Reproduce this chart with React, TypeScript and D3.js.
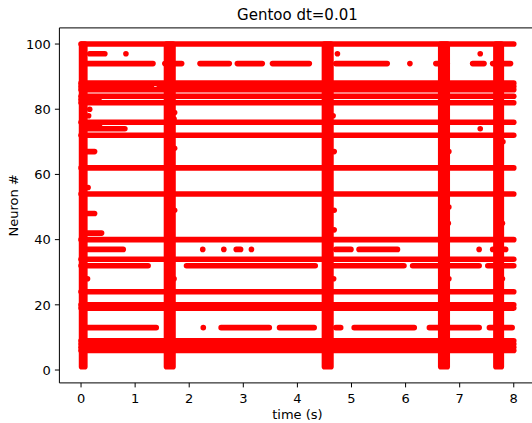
import React from 'react';
import * as d3 from 'd3';

// spike raster
const timeTicks = [0, 1, 2, 3, 4, 5, 6, 7, 8];
const neuronTicks = [0, 20, 40, 60, 80, 100];

// neurons that fire all the time, from t=0 to t=8
const tonicNeurons = [100, 88, 86, 84, 82, 76, 72, 62, 54, 40, 34, 24, 20, 19, 9, 8, 7, 6];

// population bursts (every neuron 1..100 fires)
const burstStarts = [0.01, 1.58, 4.5, 6.65, 7.67];
const burstEnds = [0.07, 1.7, 4.62, 6.77, 7.77];

// [neuron, start, end] of runs of spikes
const spikeRuns: [number, number, number][] = [
  [87, 0, 1.3], [87, 1.45, 8],
  [83, 0, 0.33],
  [97, 0.16, 0.44],
  [94, 0.07, 1.33], [94, 1.55, 1.86], [94, 2.2, 2.74], [94, 2.89, 3.35], [94, 3.54, 4.22],
  [94, 4.71, 5.66], [94, 6.56, 6.77], [94, 7.24, 7.45], [94, 7.61, 7.94],
  [75, 0.07, 0.34],
  [74, 0.07, 0.81],
  [67, 0.07, 0.25],
  [48, 0.07, 0.25],
  [42, 0.07, 0.38],
  [37, 0.07, 0.78], [37, 2.87, 2.95], [37, 4.71, 4.99], [37, 5.14, 5.85], [37, 7.61, 7.85],
  [32, 0, 1.24], [32, 1.95, 4.33], [32, 4.62, 5.97], [32, 6.13, 7.36], [32, 7.52, 8],
  [13, 0.07, 1.39], [13, 2.59, 3.48], [13, 3.67, 4.31], [13, 4.71, 4.8], [13, 5.05, 6.16],
  [13, 6.44, 7.36], [13, 7.55, 7.97],
];

// [neuron, time] of lone spikes
const singleSpikes: [number, number][] = [
  [97, 0.83], [97, 4.74], [97, 7.38], [94, 6.08], [74, 7.38],
  [37, 2.25], [37, 2.64], [37, 3.15], [37, 7.36], [13, 2.26],
  [80, 0.16], [78, 0.14], [56, 0.13], [28, 0.12],
  [79, 1.73], [77, 1.72], [68, 1.73], [49, 1.73], [28, 1.72],
  [78, 4.66], [67, 4.68], [49, 4.68], [43, 4.68], [28, 4.67],
  [67, 6.8], [50, 6.8], [45, 6.79], [28, 6.8],
  [70, 7.8], [45, 7.79], [28, 7.79],
];

const W = 532;
const H = 423;
const left = 59.4, right = 535.4, top = 27.9, bottom = 382.9;
const r = 2.8;
const red = '#ff0000';
const font = 'DejaVu Sans, sans-serif';

export default function App() {
  const x = d3.scaleLinear().domain([-0.4, 8.4]).range([left, right]);
  const y = d3.scaleLinear().domain([-3.95, 104.95]).range([bottom, top]);

  return (
    <svg width={W} height={H} style={{ position: 'absolute', left: 0, top: 0, background: '#fff' }}>
      <defs>
        <clipPath id="plot">
          <rect x={left} y={top} width={right - left} height={bottom - top} />
        </clipPath>
      </defs>
      <g clipPath="url(#plot)">
        {burstStarts.map((t0, i) => (
          <rect key={'b' + i}
            x={x(t0) - r} width={x(burstEnds[i]) - x(t0) + 2 * r}
            y={y(100) - r} height={y(1) - y(100) + 2 * r}
            rx={r} fill={red} />
        ))}
        {tonicNeurons.map(n => (
          <line key={'t' + n} x1={x(0)} x2={x(8)} y1={y(n)} y2={y(n)}
            stroke={red} strokeWidth={2 * r} strokeLinecap="round" />
        ))}
        {spikeRuns.map(([n, t0, t1], i) => (
          <line key={'s' + i} x1={x(t0)} x2={x(t1)} y1={y(n)} y2={y(n)}
            stroke={red} strokeWidth={2 * r} strokeLinecap="round" />
        ))}
        {singleSpikes.map(([n, t], i) => (
          <circle key={'p' + i} cx={x(t)} cy={y(n)} r={r} fill={red} />
        ))}
      </g>

      {/* spines */}
      <line x1={left} x2={left} y1={top} y2={bottom} stroke="#000" strokeWidth={1} />
      <line x1={left} x2={W} y1={bottom} y2={bottom} stroke="#000" strokeWidth={1} />
      <line x1={left} x2={W} y1={top} y2={top} stroke="#000" strokeWidth={1} />

      {timeTicks.map(t => (
        <g key={'xt' + t}>
          <line x1={x(t)} x2={x(t)} y1={bottom} y2={bottom + 4.5} stroke="#000" strokeWidth={1} />
          <text x={x(t)} y={403} textAnchor="middle" fontFamily={font} fontSize={13} fill="#000">{t}</text>
        </g>
      ))}
      {neuronTicks.map(n => (
        <g key={'yt' + n}>
          <line x1={left - 4.5} x2={left} y1={y(n)} y2={y(n)} stroke="#000" strokeWidth={1} />
          <text x={left - 8.5} y={y(n)} dy="0.36em" textAnchor="end" fontFamily={font} fontSize={13} fill="#000">{n}</text>
        </g>
      ))}

      <text x={(left + right) / 2} y={419} textAnchor="middle" fontFamily={font} fontSize={13} fill="#000">time (s)</text>
      <text transform={`translate(18, ${(top + bottom) / 2}) rotate(-90)`} textAnchor="middle"
        fontFamily={font} fontSize={13} fill="#000">Neuron #</text>
      <text x={(left + right) / 2} y={20} textAnchor="middle" fontFamily={font} fontSize={15} fill="#000">Gentoo dt=0.01</text>
    </svg>
  );
}
